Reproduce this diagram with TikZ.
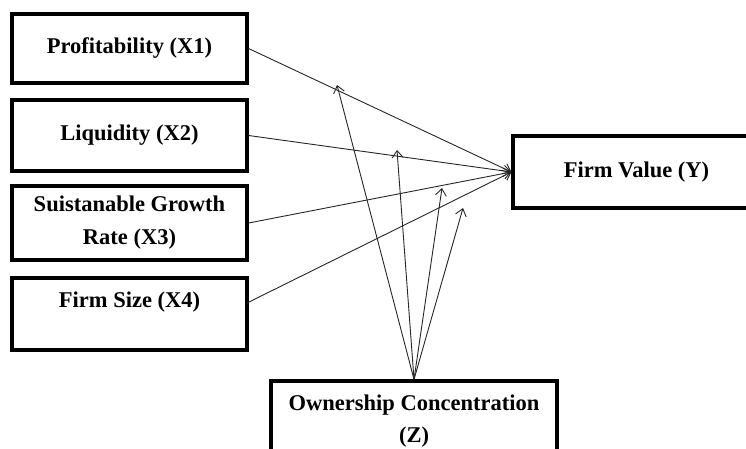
\documentclass[tikz,border=0pt]{standalone}
\usepackage{fontspec}
\setmainfont{Liberation Serif}
\usetikzlibrary{arrows.meta}
\begin{document}
\begin{tikzpicture}[x=1pt,y=-1pt,
  box/.style={draw, line width=3.2pt, inner sep=0pt, align=center,
    font=\fontsize{22.5}{33}\selectfont\bfseries},
  lbl/.style={inner sep=0pt, align=center,
    font=\fontsize{22.5}{32}\selectfont\bfseries},
  conn/.style={line width=0.9pt, draw=black!85, -{Straight Barb[length=7pt,width=11pt]}}]
\useasboundingbox (0,0) rectangle (746,449);
\node[box, minimum width=235, minimum height=69] (x1) at (129.5,48.5) {Profitability (X1)};
\node[box, minimum width=235, minimum height=71] (x2) at (129.5,135.5) {Liquidity (X2)};
\node[box, minimum width=235, minimum height=74] (x3) at (129.5,223) {Suistanable Growth\\Rate (X3)};
\node[box, minimum width=235, minimum height=72] (x4) at (129.5,314) {};
\node[lbl] (t4) at (129.5,302) {Firm Size (X4)};
\node[box, minimum width=247, minimum height=72] (fv) at (636.5,172) {Firm Value (Y)};
\node[box, minimum width=286, minimum height=100] (z) at (414,431) {};
\node[lbl] (tz) at (414,421) {Ownership Concentration\\(Z)};
\coordinate (s4) at (247,303);
\draw[conn] (x1.east) -- (fv.west);
\draw[conn] (x2.east) -- (fv.west);
\draw[conn] (x3.east) -- (fv.west);
\draw[conn] (s4) -- (fv.west);
\coordinate (m1) at (337,85);
\coordinate (m2) at (397,150);
\coordinate (m3) at (442,188);
\coordinate (m4) at (463,208);
\draw[conn] (z.north) -- (m1);
\draw[conn] (z.north) -- (m2);
\draw[conn] (z.north) -- (m3);
\draw[conn] (z.north) -- (m4);
\end{tikzpicture}
\end{document}
